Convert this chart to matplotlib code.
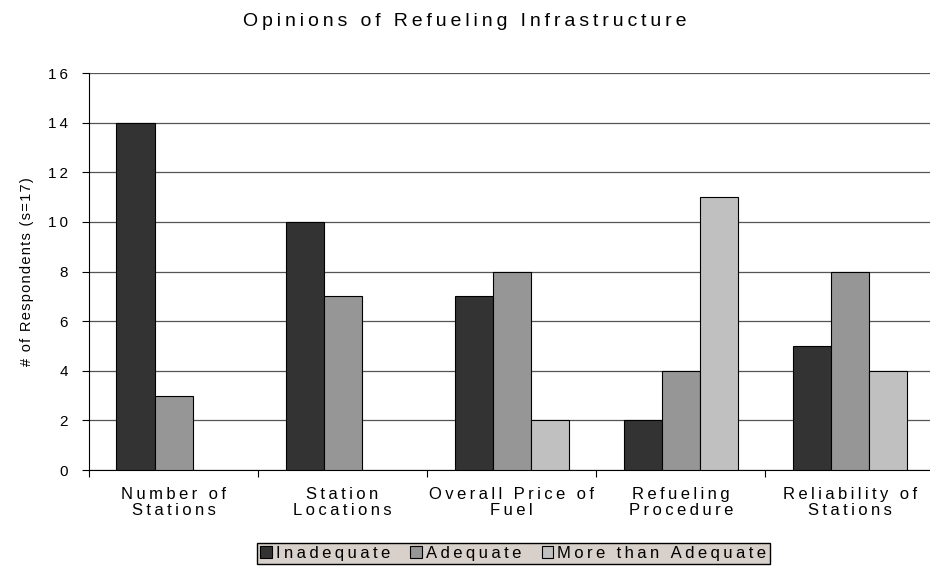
import numpy as np
import matplotlib
matplotlib.use("Agg")
from matplotlib import pyplot as plt

categories = ["Number of\nStations", "Station\nLocations", "Overall Price of\nFuel",
              "Refueling\nProcedure", "Reliability of\nStations"]
inadequate = [14, 10, 7, 2, 5]
adequate = [3, 7, 8, 4, 8]
more_than = [0, 0, 2, 11, 4]
series_names = ["Inadequate", "Adequate", "More than Adequate"]
colors = ["#333333", "#969696", "#c0c0c0"]
yticks = [0, 2, 4, 6, 8, 10, 12, 14, 16]
title = "Opinions of Refueling Infrastructure"
ylabel = "# of Respondents (s=17)"

plt.rcParams['font.family'] = ['Liberation Sans', 'DejaVu Sans']


def spaced(s, gap="\u2009"):
    # mimic the wide letter spacing of the original
    return "\n".join(gap.join(line) for line in s.split("\n"))


fig = plt.figure(figsize=(9.3, 5.67), dpi=100)
ax = fig.add_axes([0.0957, 0.171, 0.909, 0.700])

x = np.arange(len(categories))
w = 0.225
for i, (vals, c, name) in enumerate(zip([inadequate, adequate, more_than], colors, series_names)):
    xs = x + (i - 1) * w
    keep = [j for j, v in enumerate(vals) if v > 0]
    ax.bar(xs[keep], [vals[j] for j in keep], width=w, color=c,
           edgecolor="black", linewidth=0.8, label=spaced(name), zorder=3)

ax.set_xlim(-0.5, len(categories) - 0.5)
ax.set_ylim(0, 16)
ax.set_yticks(yticks)
ax.set_yticklabels([spaced(str(t)) for t in yticks])
ax.yaxis.grid(True, color="#555555", linewidth=0.9, zorder=0)
ax.set_xticks(np.arange(-0.5, len(categories), 1.0))
ax.set_xticklabels([])
ax.set_xticks(x, minor=True)
ax.set_xticklabels([spaced(c) for c in categories], minor=True, fontsize=12)
ax.tick_params(axis="x", which="minor", length=0, pad=12)
ax.tick_params(axis="x", which="major", length=5, direction="out")
ax.tick_params(axis="y", length=5, direction="out", labelsize=11, pad=10)
for lbl in ax.get_xticklabels(minor=True):
    lbl.set_linespacing(1.1)

for s in ["top", "right"]:
    ax.spines[s].set_visible(False)
ax.spines["left"].set_color("black")
ax.spines["bottom"].set_color("black")

ax.set_ylabel(spaced(ylabel, "\u200a"), fontsize=10.5, labelpad=10)
fig.text(0.5, 0.962, spaced(title), ha="center", va="center", fontsize=14)

leg = fig.legend(loc="center", bbox_to_anchor=(0.552, 0.024), ncol=3, fontsize=12,
                 frameon=True, fancybox=False, handlelength=0.7, handleheight=0.7,
                 handletextpad=0.25, columnspacing=1.2, borderpad=0.2)
leg.get_frame().set_facecolor("#d8d0ca")
leg.get_frame().set_edgecolor("black")
leg.get_frame().set_alpha(1)

fig.savefig("out.png", dpi=100)
